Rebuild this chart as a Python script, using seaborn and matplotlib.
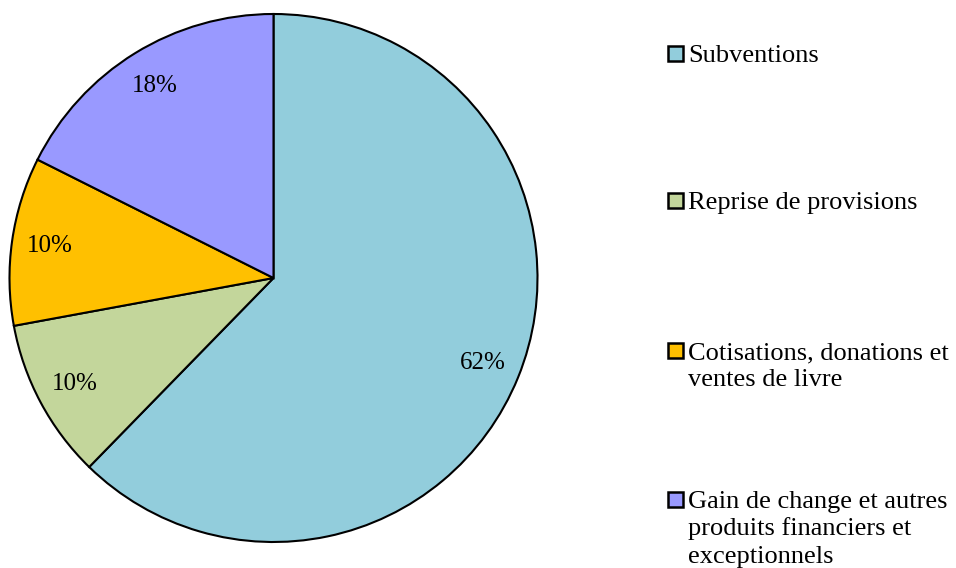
import matplotlib
matplotlib.use("Agg")
import matplotlib.pyplot as plt
import matplotlib.patches as mpatches
import seaborn as sns

# ---- DONNÉES ----
categories = [
    "Subventions",
    "Reprise de provisions",
    "Cotisations, donations et\nventes de livre",
    "Gain de change et autres\nproduits financiers et\nexceptionnels",
]
parts = [62.3, 9.8, 10.3, 17.6]
couleurs = ["#92CDDC", "#C3D69B", "#FFC000", "#9999FF"]

sns.set_theme(style="white")
plt.rcParams["font.family"] = ["Liberation Serif", "DejaVu Serif"]

W, H = 956, 568
fig = plt.figure(figsize=(W / 100, H / 100), dpi=100)

# axe du camembert : centre (273.5, 278), rayon 264 px
cx, cy, r = 273.5, 278, 264 * 1.01
ax = fig.add_axes([(cx - r) / W, (H - cy - r) / H, 2 * r / W, 2 * r / H])
wedges, texts, autotexts = ax.pie(
    parts,
    colors=couleurs,
    startangle=90,
    counterclock=False,
    autopct="%.0f%%",
    pctdistance=0.855,
    wedgeprops=dict(edgecolor="black", linewidth=1.5),
    textprops=dict(fontsize=18, color="black"),
)
ax.set_xlim(-1.01, 1.01)
ax.set_ylim(-1.01, 1.01)
ax.set_aspect("equal")
ax.axis("off")

# ---- LÉGENDE (carrés + texte, une ligne à la fois) ----
tops = [46, 193, 343, 492]
pas = 27.5  # interligne en px
for lab, col, top in zip(categories, couleurs, tops):
    fig.patches.append(mpatches.Rectangle(
        (668 / W, (H - top - 15) / H), 15 / W, 15 / H,
        transform=fig.transFigure, facecolor=col, edgecolor="black",
        linewidth=1.8))
    for i, ligne in enumerate(lab.split("\n")):
        fig.text(688 / W, (H - top - 16 - i * pas) / H, ligne, fontsize=19,
                 va="baseline", ha="left", color="black")

fig.savefig("out.png", dpi=100)
